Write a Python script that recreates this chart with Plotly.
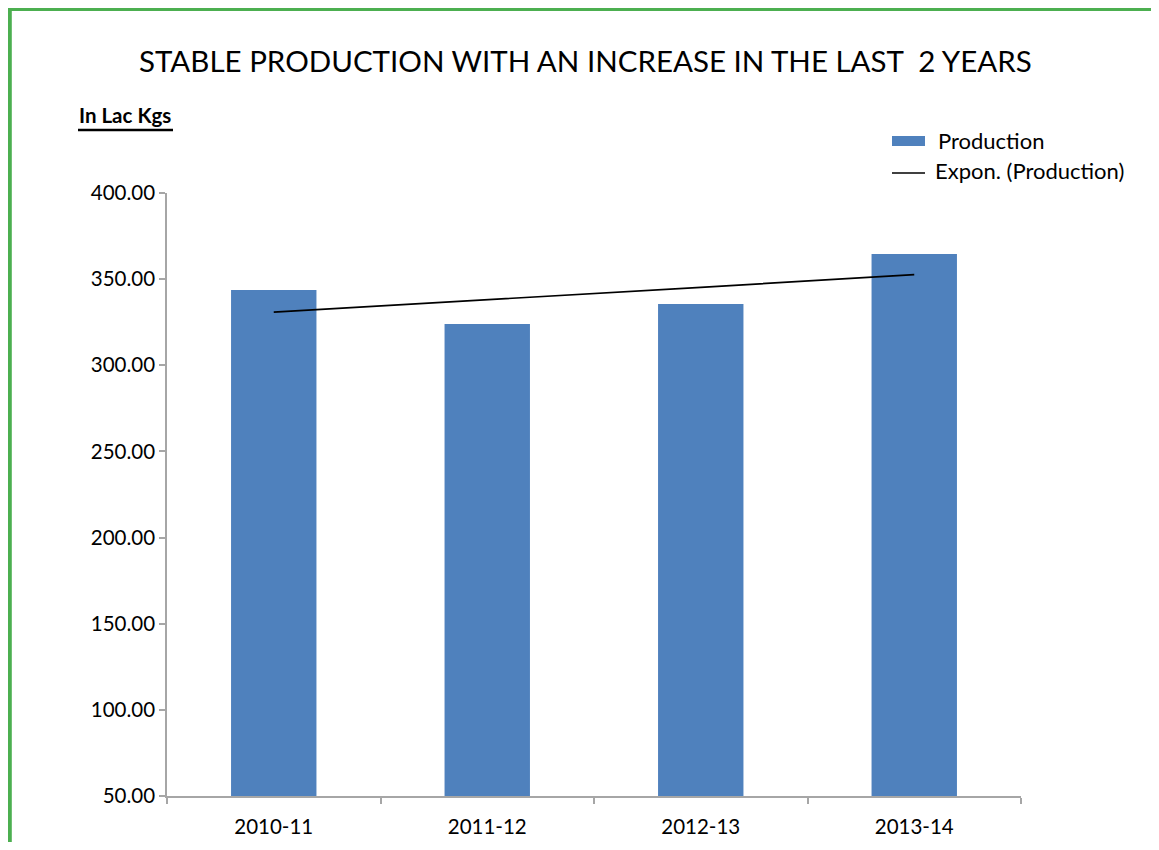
import numpy as np
import plotly.graph_objects as go

categories = ["2010-11", "2011-12", "2012-13", "2013-14"]
production = [343.7, 323.9, 335.5, 364.6]
y_ticks = [50, 100, 150, 200, 250, 300, 350, 400]
title_text = "STABLE PRODUCTION WITH AN INCREASE IN THE LAST  2 YEARS"
unit_text = "In Lac Kgs"

# Exponential trendline fit (like Excel "Expon.")
xs = np.arange(1, len(production) + 1)
b, a = np.polyfit(xs, np.log(production), 1)
trend = list(np.exp(a + b * xs))

OFF = 8  # default body margin of the page
W, H = 1159 - OFF, 850 - 2 * OFF
# plot area in page pixels
PL, PR, PT, PB = 167, 1021, 193, 796
L, R, T, B = PL - OFF, PR - OFF, PT - OFF, PB - OFF
FONT = "Lato"

def px(x):  # page px -> paper
    return (x - PL) / (PR - PL)

def py(y):
    return (PB - y) / (PB - PT)

fig = go.Figure()
fig.add_trace(go.Bar(x=categories, y=production, name="Production",
                     marker=dict(color="#4F81BD", line=dict(width=0)), width=0.4))
fig.add_trace(go.Scatter(x=categories, y=trend, mode="lines", name="Expon. (Production)",
                         line=dict(color="black", width=1.7)))

green = "#4CAF50"
shapes = [
    dict(type="line", xref="paper", yref="paper", x0=px(9.8), x1=px(9.8), y0=py(8), y1=py(870),
         line=dict(color=green, width=4)),
    dict(type="line", xref="paper", yref="paper", x0=px(8), x1=px(1158), y0=py(9.5), y1=py(9.5),
         line=dict(color=green, width=3)),
    dict(type="line", xref="paper", yref="paper", x0=px(1157.5), x1=px(1157.5), y0=py(8), y1=py(870),
         line=dict(color="#6cc070", width=1.5)),
    dict(type="line", xref="paper", yref="paper", x0=px(78), x1=px(173), y0=py(130), y1=py(130),
         line=dict(color="black", width=2.5)),
    dict(type="rect", xref="paper", yref="paper", x0=px(892), x1=px(925), y0=py(136), y1=py(146),
         fillcolor="#4F81BD", line=dict(width=0)),
    dict(type="line", xref="paper", yref="paper", x0=px(892), x1=px(925), y0=py(173), y1=py(173),
         line=dict(color="black", width=1.5)),
]

annotations = [
    dict(text=title_text, xref="paper", yref="paper", x=px(585), y=py(60), showarrow=False,
         xanchor="center", yanchor="middle", font=dict(family=FONT, size=29.5, color="black")),
    dict(text="<b>" + unit_text + "</b>", xref="paper", yref="paper", x=px(77), y=py(115), showarrow=False,
         xanchor="left", yanchor="middle", font=dict(family=FONT, size=20.5, color="black")),
    dict(text="Production", xref="paper", yref="paper", x=px(936), y=py(140), showarrow=False,
         xanchor="left", yanchor="middle", font=dict(family=FONT, size=22, color="black")),
    dict(text="Expon. (Production)", xref="paper", yref="paper", x=px(933), y=py(171), showarrow=False,
         xanchor="left", yanchor="middle", font=dict(family=FONT, size=22, color="black")),
]

fig.update_layout(
    width=W, height=H,
    margin=dict(l=L, r=W - R, t=T, b=H - B, pad=0, autoexpand=False),
    paper_bgcolor="white", plot_bgcolor="white",
    showlegend=False,
    shapes=shapes, annotations=annotations,
    font=dict(family=FONT, size=20, color="black"),
)
fig.update_yaxes(range=[50, 400], tickvals=y_ticks, tickformat=".2f", automargin=False,
                 showgrid=False, zeroline=False, showline=True, linecolor="#a6a6a6", linewidth=1.5,
                 ticks="outside", ticklen=6, tickcolor="#a6a6a6", tickwidth=1.5,
                 tickfont=dict(family=FONT, size=20.5, color="black"), ticklabelstandoff=0)
fig.update_xaxes(type="category", automargin=False, showgrid=False, zeroline=False, showline=True,
                 linecolor="#a6a6a6", linewidth=1.5,
                 ticks="outside", ticklen=6, tickcolor="#a6a6a6", tickwidth=1.5, tickson="boundaries",
                 tickfont=dict(family=FONT, size=20.5, color="black"), ticklabelstandoff=12)

fig.write_html("out.html")
